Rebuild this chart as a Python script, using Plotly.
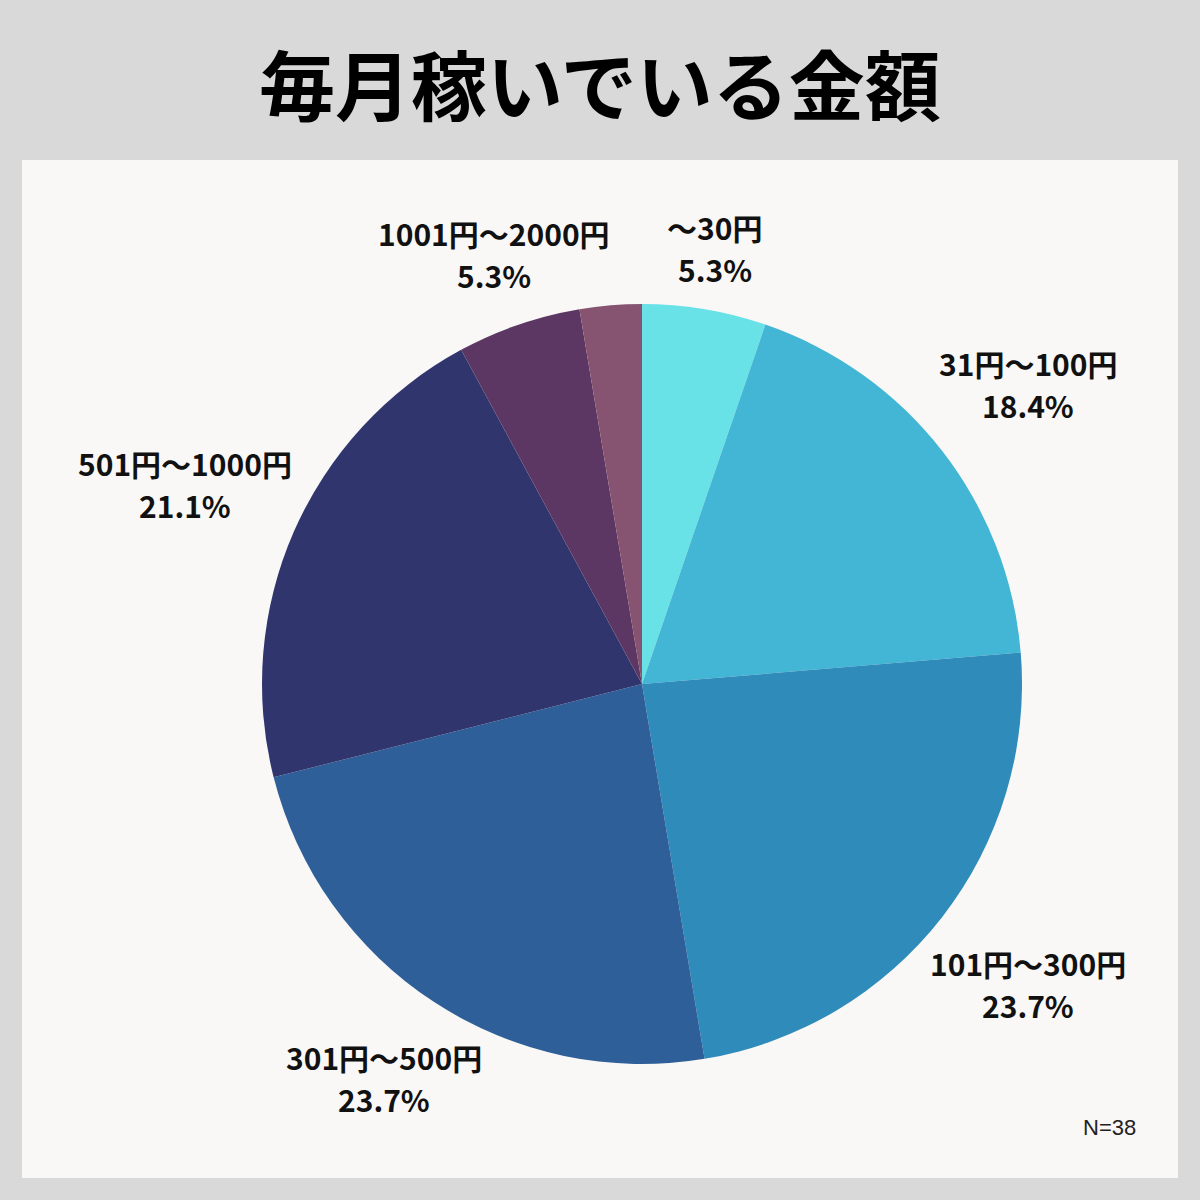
import math
import plotly.graph_objects as go

# ---- data ----
categories = ["～30円", "31円～100円", "101円～300円", "301円～500円",
              "501円～1000円", "1001円～2000円", "2001円以上"]
counts = [2, 7, 9, 9, 8, 2, 1]
show_label = [True, True, True, True, True, True, False]
colors = ["#68e2e7", "#42b6d4", "#2e8bba", "#2e5f99",
          "#30356e", "#5c3763", "#865470"]
title_text = "毎月稼いでいる金額"
note_text = "N=38"

W, H = 1200, 1200
cx, cy, R = 642, 684, 380  # pie centre / radius in px

total = sum(counts)
pcts = [round(c / total * 100, 1) for c in counts]

fig = go.Figure()
fig.add_trace(go.Pie(
    labels=categories,
    values=counts,
    sort=False,
    direction="clockwise",
    rotation=0,
    textinfo="none",
    hoverinfo="label+percent",
    marker=dict(colors=colors, line=dict(width=0)),
    domain=dict(x=[(cx - R) / W, (cx + R) / W],
                y=[1 - (cy + R) / H, 1 - (cy - R) / H]),
    showlegend=False,
))

label_font = dict(family="Noto Sans CJK JP", size=30, color="#111111")
annotations = []
cum = 0
for cat, c, p, show in zip(categories, counts, pcts, show_label):
    mid = (cum + c / 2) / total * 2 * math.pi
    cum += c
    if not show:
        continue
    dist = 430 + 75 * abs(math.sin(mid))
    lx = cx + dist * math.sin(mid)
    ly = cy - dist * math.cos(mid)
    for txt, off in ((cat, -21), (f"{p:.1f}%", 21)):
        annotations.append(dict(
            x=lx / W, y=1 - (ly + off) / H, xref="paper", yref="paper",
            xanchor="center", yanchor="middle", showarrow=False,
            text=f"<b>{txt}</b>", font=label_font, align="center",
        ))

annotations.append(dict(
    x=600 / W, y=1 - 82 / H, xref="paper", yref="paper",
    xanchor="center", yanchor="middle", showarrow=False,
    text=f"<b>{title_text}</b>",
    font=dict(family="Noto Sans CJK JP", size=76, color="#000000", weight=900),
))
annotations.append(dict(
    x=1138 / W, y=1 - 1127 / H, xref="paper", yref="paper",
    xanchor="right", yanchor="middle", showarrow=False,
    text=note_text,
    font=dict(family="Liberation Sans", size=22, color="#222222"),
))

fig.update_layout(
    width=W, height=H,
    margin=dict(l=0, r=0, t=0, b=0),
    paper_bgcolor="#d9d9d9",
    plot_bgcolor="#d9d9d9",
    shapes=[dict(type="rect", xref="paper", yref="paper",
                 x0=22 / W, x1=1178 / W, y0=1 - 1178 / H, y1=1 - 160 / H,
                 fillcolor="#f9f8f6", line=dict(width=0), layer="below")],
    annotations=annotations,
)

fig.write_html("out.html")
